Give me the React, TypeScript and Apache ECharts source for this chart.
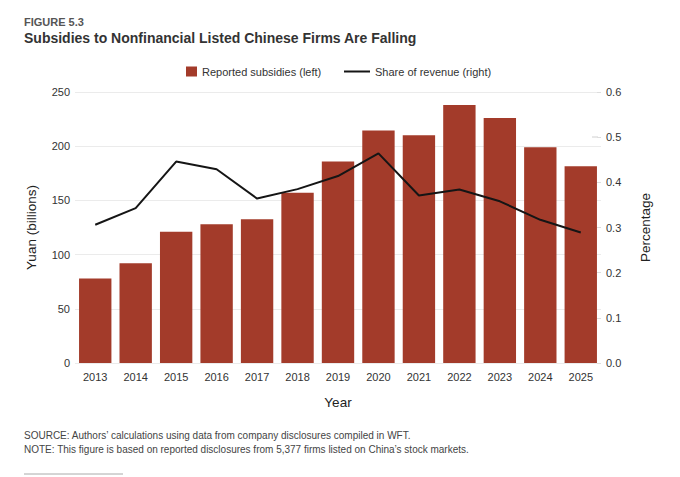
import React, { useEffect, useRef } from "react";
import * as echarts from "echarts";

const years = ["2013", "2014", "2015", "2016", "2017", "2018", "2019", "2020", "2021", "2022", "2023", "2024", "2025"];
const subsidies = [78, 92, 121, 128, 132.5, 157, 186, 214.5, 210, 238, 226, 199, 181.5];
const shareOfRevenue = [0.306, 0.343, 0.446, 0.429, 0.364, 0.385, 0.414, 0.464, 0.371, 0.384, 0.358, 0.317, 0.289];
const leftTicks = { min: 0, max: 250, interval: 50 };
const rightTicks = { min: 0, max: 0.6, interval: 0.1 };

const FONT = "Liberation Sans";
const BAR_NAME = "Reported subsidies (left)";
const LINE_NAME = "Share of revenue (right)";

export default function App() {
  const ref = useRef<HTMLDivElement>(null);
  useEffect(() => {
    document.body.style.margin = "0";
    const chart = echarts.init(ref.current!, null, { renderer: "svg" });
    chart.setOption({
      animation: false,
      backgroundColor: "#ffffff",
      textStyle: { fontFamily: FONT },
      grid: { left: 75, right: 79, top: 92, bottom: 114, containLabel: false },
      legend: [
        {
          data: [{ name: BAR_NAME, icon: "rect" }],
          left: 186,
          top: 66,
          padding: 0,
          itemWidth: 11,
          itemHeight: 10,
          selectedMode: false,
          textStyle: { fontFamily: FONT, fontSize: 11, color: "#333" },
        },
        {
          data: [{ name: LINE_NAME, icon: "rect" }],
          left: 344,
          top: 66,
          padding: 0,
          itemWidth: 26,
          itemHeight: 2,
          selectedMode: false,
          textStyle: { fontFamily: FONT, fontSize: 11, color: "#333" },
        },
      ],
      xAxis: {
        type: "category",
        data: years,
        name: "Year",
        nameLocation: "middle",
        nameGap: 32,
        nameTextStyle: { fontFamily: FONT, fontSize: 13.5, color: "#222" },
        axisLine: { show: false },
        axisTick: { show: false },
        axisLabel: { fontFamily: FONT, fontSize: 11, color: "#333", margin: 8 },
      },
      yAxis: [
        {
          type: "value",
          ...leftTicks,
          name: "Yuan (billions)",
          nameLocation: "middle",
          nameGap: 37,
          nameRotate: 90,
          nameTextStyle: { fontFamily: FONT, fontSize: 13.5, color: "#222" },
          axisLine: { show: false },
          axisTick: { show: false },
          axisLabel: { fontFamily: FONT, fontSize: 11, color: "#333", margin: 5 },
          splitLine: { lineStyle: { color: "#ebebeb", width: 1 } },
        },
        {
          type: "value",
          ...rightTicks,
          position: "right",
          name: "Percentage",
          nameLocation: "middle",
          nameGap: 37,
          nameRotate: 90,
          nameTextStyle: { fontFamily: FONT, fontSize: 13.5, color: "#222" },
          axisLine: { show: false },
          axisTick: { show: true, inside: true, length: 4, lineStyle: { color: "#dddddd" } },
          axisLabel: {
            fontFamily: FONT,
            fontSize: 11,
            color: "#333",
            margin: 5,
            formatter: (v: number) => v.toFixed(1),
          },
          splitLine: { show: false },
        },
      ],
      series: [
        {
          name: BAR_NAME,
          type: "bar",
          data: subsidies,
          yAxisIndex: 0,
          barCategoryGap: "20%",
          itemStyle: { color: "#a33b2a" },
        },
        {
          name: LINE_NAME,
          type: "line",
          data: shareOfRevenue,
          yAxisIndex: 1,
          symbol: "none",
          lineStyle: { color: "#151515", width: 2 },
          itemStyle: { color: "#151515" },
          z: 5,
        },
      ],
      graphic: [
        {
          type: "text",
          left: 24,
          top: 16,
          style: { text: "FIGURE 5.3", font: `bold 11px "${FONT}"`, fill: "#555" },
        },
        {
          type: "text",
          left: 24,
          top: 31,
          style: {
            text: "Subsidies to Nonfinancial Listed Chinese Firms Are Falling",
            font: `bold 14px "${FONT}"`,
            fill: "#333",
          },
        },
        {
          type: "text",
          left: 24,
          top: 430,
          style: {
            text: "SOURCE: Authors\u2019 calculations using data from company disclosures compiled in WFT.",
            font: `10px "${FONT}"`,
            fill: "#444",
          },
        },
        {
          type: "text",
          left: 24,
          top: 444,
          style: {
            text: "NOTE: This figure is based on reported disclosures from 5,377 firms listed on China\u2019s stock markets.",
            font: `10px "${FONT}"`,
            fill: "#444",
          },
        },
        {
          type: "line",
          shape: { x1: 24, y1: 474, x2: 123, y2: 474 },
          style: { stroke: "#aaaaaa", lineWidth: 1 },
        },
        {
          type: "line",
          shape: { x1: 592, y1: 137, x2: 598, y2: 137 },
          style: { stroke: "#d0d0d0", lineWidth: 1 },
        },
      ],
    });
    return () => chart.dispose();
  }, []);
  return (
    <div
      ref={ref}
      style={{ position: "fixed", left: 0, top: 0, width: 680, height: 477, background: "#fff" }}
    />
  );
}
